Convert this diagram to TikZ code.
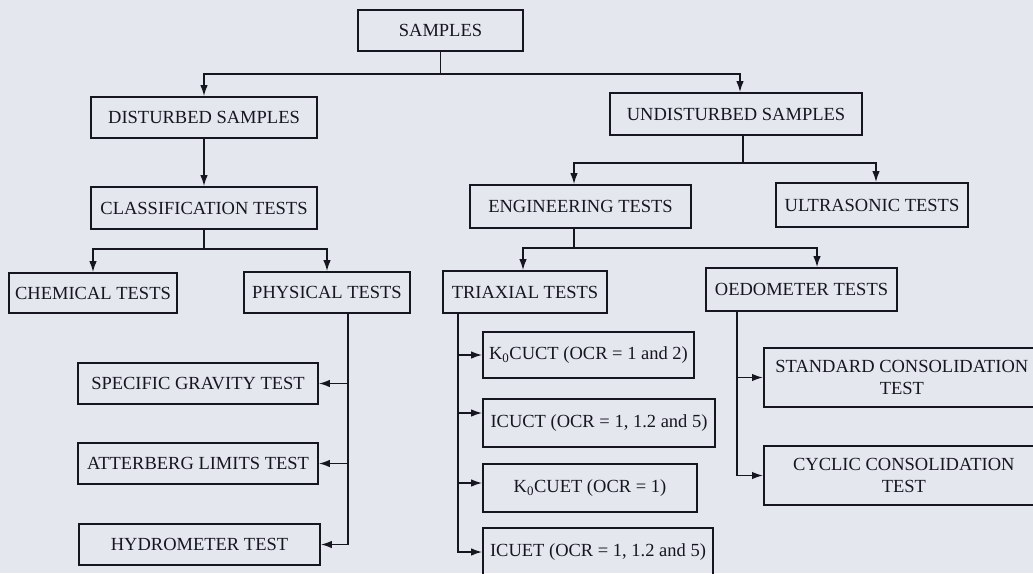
\documentclass[tikz,border=0pt]{standalone}
\usepackage{fontspec}
\setmainfont{Liberation Serif}
\usetikzlibrary{arrows.meta,calc}
\definecolor{paper}{RGB}{229,231,239}
\definecolor{ink}{RGB}{22,22,32}
\begin{document}
\begin{tikzpicture}[x=1pt,y=-1pt,
  bx/.style={draw=ink, line width=1.7pt, text=ink, inner sep=1pt, align=center,
    font=\fontsize{18.5}{22}\selectfont},
  sz/.style 2 args={minimum width=#1pt, minimum height=#2pt},
  ln/.style={draw=ink, line width=1.6pt},
  arr/.style={ln, -{Latex[length=11pt,width=7.5pt]}}]
\useasboundingbox (0,0) rectangle (1033,573);
\fill[paper] (0,0) rectangle (1033,573);
\clip (0,0) rectangle (1033,573);

% nodes
\node[bx, sz={165}{41}] (samples) at (440.5,30.5) {SAMPLES};
\node[bx, sz={226}{41}] (dist) at (204,117.5) {DISTURBED SAMPLES};
\node[bx, sz={252}{42}] (undist) at (736,114) {UNDISTURBED SAMPLES};
\node[bx, sz={226}{42}] (class) at (204,208) {CLASSIFICATION TESTS};
\node[bx, sz={168}{40}] (chem) at (93,293) {CHEMICAL TESTS};
\node[bx, sz={166}{41}] (phys) at (327,292.5) {PHYSICAL TESTS};
\node[bx, sz={240}{41}] (sg) at (198,383.5) {SPECIFIC GRAVITY TEST};
\node[bx, sz={240}{41}] (att) at (198,463.5) {ATTERBERG LIMITS TEST};
\node[bx, sz={241}{41}] (hyd) at (199.5,544.5) {HYDROMETER TEST};
\node[bx, sz={221}{43}] (eng) at (580.5,206.5) {ENGINEERING TESTS};
\node[bx, sz={192}{44}] (ultra) at (872,205) {ULTRASONIC TESTS};
\node[bx, sz={164}{42}] (tri) at (525,292) {TRIAXIAL TESTS};
\node[bx, sz={191}{43}] (oed) at (801.5,289.5) {OEDOMETER TESTS};
\node[bx, sz={211}{46}] (k0cuct) at (588.5,355) {K\textsubscript{0}CUCT (OCR = 1 and 2)};
\node[bx, sz={232}{48}] (icuct) at (599,423) {ICUCT (OCR = 1, 1.2 and 5)};
\node[bx, sz={214}{48}] (k0cuet) at (590,488) {K\textsubscript{0}CUET (OCR = 1)};
\node[bx, sz={230}{48}] (icuet) at (598,552) {ICUET (OCR = 1, 1.2 and 5)};
\node[bx, sz={276}{59}, anchor=west] (std) at (763,377.5) {STANDARD CONSOLIDATION\\TEST};
\node[bx, sz={280}{59}, anchor=west] (cyc) at (763,475.5) {CYCLIC CONSOLIDATION\\TEST};

% top level
\draw[arr] (samples.south) -- ++(0,22) -| (dist.north);
\draw[arr] (samples.south) -- ++(0,22) -| ([xshift=4pt]undist.north);

% disturbed branch
\draw[arr] (dist.south) -- (class.north);
\draw[arr] (class.south) -- ++(0,19) -| (chem.north);
\draw[arr] (class.south) -- ++(0,19) -| (phys.north);

\coordinate (ps) at ([xshift=21pt]phys.south);
\draw[arr] (ps) |- (hyd.east);
\draw[arr] (ps |- sg.east) -- (sg.east);
\draw[arr] (ps |- att.east) -- (att.east);

% undisturbed branch
\draw[arr] ([xshift=7pt]undist.south) -- ++(0,27) -| ([xshift=-6.5pt]eng.north);
\draw[arr] ([xshift=7pt]undist.south) -- ++(0,27) -| ([xshift=4pt]ultra.north);

\draw[arr] ([xshift=-6.5pt]eng.south) -- ++(0,19) -| ([xshift=-2pt]tri.north);
\draw[arr] ([xshift=-6.5pt]eng.south) -- ++(0,19) -| ([xshift=15.5pt]oed.north);

% triaxial spine
\coordinate (ts) at ([xshift=-67pt]tri.south);
\coordinate (icin) at ([yshift=10pt]icuct.west);
\coordinate (kein) at ([yshift=5pt]k0cuet.west);
\draw[arr] (ts) |- (icuet.west);
\draw[arr] (ts |- k0cuct.west) -- (k0cuct.west);
\draw[arr] (ts |- icin) -- (icin);
\draw[arr] (ts |- kein) -- (kein);

% oedometer spine
\coordinate (os) at ([xshift=-64.5pt]oed.south);
\draw[arr] (os) |- (cyc.west);
\draw[arr] (os |- std.west) -- (std.west);
\end{tikzpicture}
\end{document}
